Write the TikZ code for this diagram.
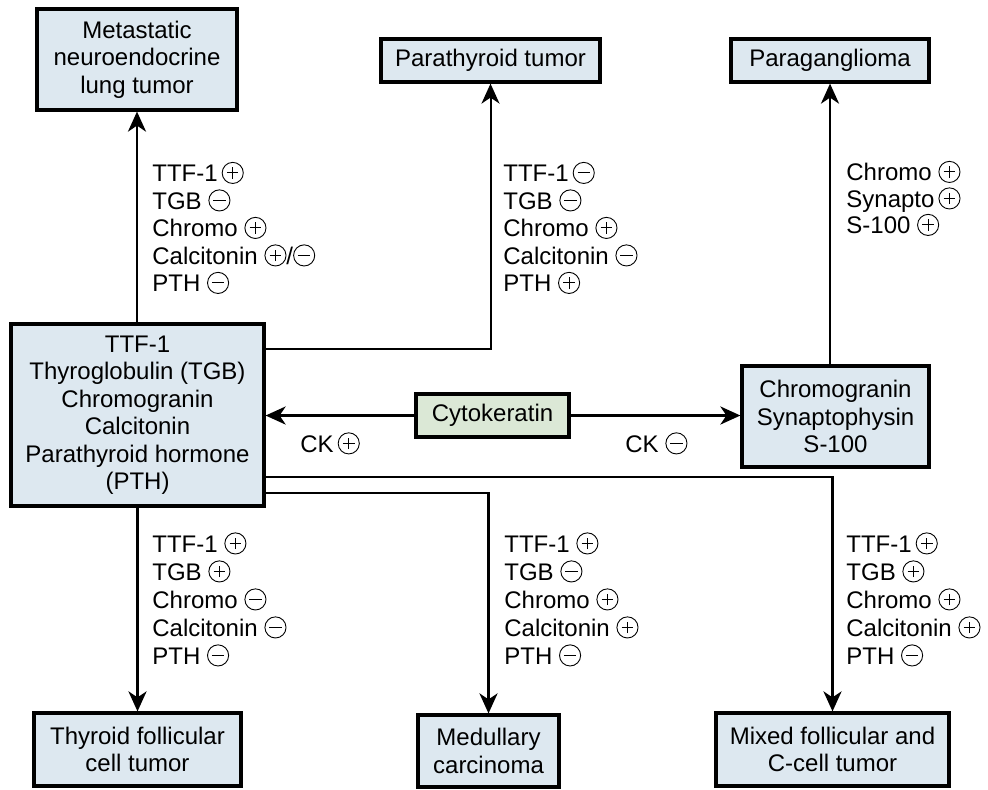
\documentclass[tikz,border=0pt]{standalone}
\usepackage{fontspec}
\setmainfont{Liberation Sans}
\usetikzlibrary{arrows.meta}

\definecolor{boxblue}{RGB}{221,232,240}
\definecolor{boxgreen}{RGB}{219,232,214}

\newcommand{\cpos}{\tikz[baseline=-0.36em]{\draw[line width=0.45pt] (0,0) circle (0.44em); \draw[line width=0.45pt] (-0.24em,0) -- (0.24em,0) (0,-0.24em) -- (0,0.24em);}}
\newcommand{\cneg}{\tikz[baseline=-0.36em]{\draw[line width=0.45pt] (0,0) circle (0.44em); \draw[line width=0.45pt] (-0.26em,0) -- (0.26em,0);}}

\begin{document}
\begin{tikzpicture}[x=0.5pt,y=-0.5pt,
  font=\fontsize{12}{13.75}\selectfont,
  box/.style={draw,line width=1.6pt,fill=boxblue,align=center,inner sep=0pt},
  marks/.style={anchor=north west,align=left,inner sep=0pt},
  arr/.style={line width=1.4pt,-{Stealth[length=10pt,width=9pt,inset=3pt]}}]
    \useasboundingbox (0,0) rectangle (988,789);

    % Place nodes
    \node [box,minimum width=100pt,minimum height=50.5pt] (meta) at (137,59.5) {Metastatic\\neuroendocrine\\lung tumor};
    \node [box,minimum width=109.5pt,minimum height=21.5pt] (para) at (490.5,60.5) {Parathyroid tumor};
    \node [box,minimum width=99pt,minimum height=21.5pt] (pgl) at (830,60.5) {Paraganglioma};
    \node [box,minimum width=126.5pt,minimum height=91pt] (main) at (137.5,415) {TTF-1\\Thyroglobulin (TGB)\\Chromogranin\\Calcitonin\\Parathyroid hormone\\(PTH)};
    \node [box,fill=boxgreen,minimum width=76.5pt,minimum height=21.5pt] (cyto) at (492.5,415.5) {Cytokeratin};
    \node [box,minimum width=93.5pt,minimum height=50.5pt] (chr) at (835.5,416.5) {Chromogranin\\Synaptophysin\\S-100};
    \node [box,minimum width=103.5pt,minimum height=36.5pt] (thy) at (137.5,749.5) {Thyroid follicular\\cell tumor};
    \node [box,minimum width=70.5pt,minimum height=36pt] (med) at (488.5,751) {Medullary\\carcinoma};
    \node [box,minimum width=116.5pt,minimum height=36.5pt] (mix) at (832.5,749.5) {Mixed follicular and\\C-cell tumor};

    % Connectors
    \draw [arr] (meta.south |- main.north) -- (meta.south);
    \draw [arr,line width=1pt] ([yshift=33pt]main.east) -| (para.south);
    \draw [arr] (pgl.south |- chr.north) -- (pgl.south);
    \draw [arr] (cyto.west) -- (cyto.west -| main.east);
    \draw [arr] (cyto.east) -- (cyto.east -| chr.west);
    \draw [arr] (main.south) -- (thy.north);
    \draw [arr] ([yshift=-31pt]main.east) -| (mix.north);
    \draw [arr] ([yshift=-39pt]main.east) -| (med.north);

    % Marker labels
    \node [marks] (mkmeta) at (152,161.5) {TTF-1\,\cpos\\TGB \cneg\\Chromo \cpos\\Calcitonin \cpos/\cneg\\PTH \cneg};
    \node [marks] (mkpara) at (503,161.5) {TTF-1\,\cneg\\TGB \cneg\\Chromo \cpos\\Calcitonin \cneg\\PTH \cpos};
    \node [marks,font=\fontsize{12}{13.25}\selectfont] (mkpgl) at (846,160.5) {Chromo \cpos\\Synapto\,\cpos\\S-100 \cpos};
    \node [anchor=base west,inner sep=0pt] (ckp) at (300,452) {CK\,\cpos};
    \node [anchor=base west,inner sep=0pt] (ckn) at (625,452) {CK \cneg};
    \node [marks,font=\fontsize{12}{14}\selectfont] (mkthy) at (152,532) {TTF-1 \cpos\\TGB \cpos\\Chromo \cneg\\Calcitonin \cneg\\PTH \cneg};
    \node [marks,font=\fontsize{12}{14}\selectfont] (mkmed) at (504,532) {TTF-1 \cpos\\TGB \cneg\\Chromo \cpos\\Calcitonin \cpos\\PTH \cneg};
    \node [marks,font=\fontsize{12}{14}\selectfont] (mkmix) at (846,532) {TTF-1\,\cpos\\TGB \cpos\\Chromo \cpos\\Calcitonin \cpos\\PTH \cneg};
\end{tikzpicture}
\end{document}
